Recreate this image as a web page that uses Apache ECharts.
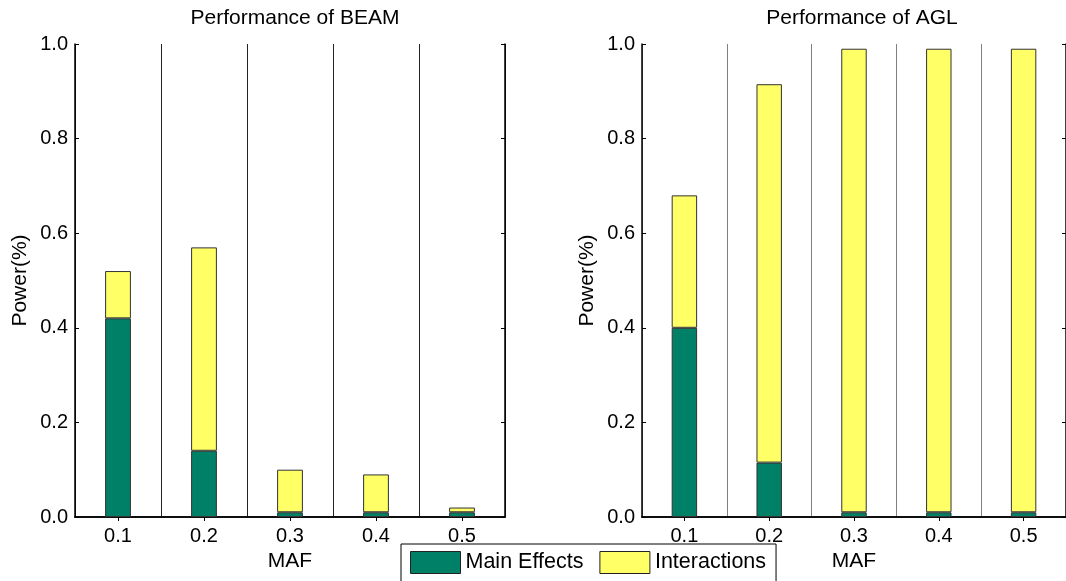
<!DOCTYPE html>
<html>
<head>
<meta charset="utf-8">
<script src="https://cdn.jsdelivr.net/npm/echarts@6/dist/echarts.min.js"></script>
<style>
html,body{margin:0;padding:0;background:#fff;}
#chart{width:1066px;height:581px;}
</style>
</head>
<body>
<div id="chart"></div>
<script>
const categories = ['0.1', '0.2', '0.3', '0.4', '0.5'];
const beamMain = [0.42, 0.14, 0.01, 0.01, 0.01];
const beamInter = [0.10, 0.43, 0.09, 0.08, 0.01];
const aglMain = [0.40, 0.115, 0.01, 0.01, 0.01];
const aglInter = [0.28, 0.80, 0.98, 0.98, 0.98];
const titles = ['Performance of BEAM', 'Performance of AGL'];

const FONT = 'Liberation Sans, Arial, sans-serif';
const GREEN = '#008066';
const YELLOW = '#ffff66';

const chart = echarts.init(document.getElementById('chart'), null, {renderer: 'canvas'});

const grids = [
  {left: 75, top: 44, width: 430, height: 473},
  {left: 642, top: 44, width: 430, height: 473}
];
const sepColors = ['#222', '#808080'];

const xAxes = [];
const yAxes = [];
grids.forEach((g, i) => {
  xAxes.push({
    type: 'category', gridIndex: i, data: categories, position: 'bottom',
    name: 'MAF', nameLocation: 'middle', nameGap: 29,
    nameTextStyle: {fontFamily: FONT, fontSize: 21, color: '#000'},
    axisLine: {lineStyle: {color: '#000', width: 1.5}},
    axisTick: {show: true, inside: true, alignWithLabel: true, length: 4, lineStyle: {color: '#000'}},
    axisLabel: {fontFamily: FONT, fontSize: 20, color: '#000', margin: 9},
    splitLine: {show: true, lineStyle: {color: sepColors[i], width: 1}}
  });
  xAxes.push({
    type: 'category', gridIndex: i, data: categories, position: 'top',
    axisLine: {lineStyle: {color: '#000', width: 1.5}},
    axisTick: {show: true, inside: true, alignWithLabel: true, length: 4, lineStyle: {color: '#000'}},
    axisLabel: {show: false},
    splitLine: {show: false}
  });
  yAxes.push({
    type: 'value', gridIndex: i, min: 0, max: 1, interval: 0.2, position: 'left',
    name: 'Power(%)', nameLocation: 'middle', nameGap: 44,
    nameTextStyle: {fontFamily: FONT, fontSize: 21, color: '#000'},
    axisLine: {show: true, lineStyle: {color: '#000', width: 1.5}},
    axisTick: {show: true, inside: true, length: 4, lineStyle: {color: '#000'}},
    axisLabel: {fontFamily: FONT, fontSize: 20, color: '#000', margin: 7,
      formatter: v => v.toFixed(1)},
    splitLine: {show: false}
  });
  yAxes.push({
    type: 'value', gridIndex: i, min: 0, max: 1, interval: 0.2, position: 'right',
    axisLine: {show: true, lineStyle: {color: '#000', width: 1.5}},
    axisTick: {show: true, inside: true, length: 4, lineStyle: {color: '#000'}},
    axisLabel: {show: false},
    splitLine: {show: false}
  });
});

function barSeries(name, data, gridIdx, stack, color) {
  return {
    name: name, type: 'bar', stack: stack,
    xAxisIndex: gridIdx * 2, yAxisIndex: gridIdx * 2,
    data: data, barWidth: '30%',
    itemStyle: {color: color, borderColor: '#333', borderWidth: 1},
    emphasis: {disabled: true},
    animation: false
  };
}

const option = {
  animation: false,
  title: titles.map((t, i) => ({
    text: t, left: grids[i].left + grids[i].width / 2, top: 3, textAlign: 'center',
    textStyle: {fontFamily: FONT, fontSize: 21, fontWeight: 'normal', color: '#000'}
  })),
  legend: {
    left: 401, top: 544,
    orient: 'horizontal',
    backgroundColor: '#fff',
    borderColor: '#000', borderWidth: 1,
    padding: [7, 10, 8, 9],
    itemWidth: 50, itemHeight: 22, itemGap: 16,
    icon: 'rect',
    textStyle: {fontFamily: FONT, fontSize: 21.5, color: '#000'},
    data: [
      {name: 'Main Effects', itemStyle: {color: GREEN, borderColor: '#222', borderWidth: 1}},
      {name: 'Interactions', itemStyle: {color: YELLOW, borderColor: '#222', borderWidth: 1}}
    ]
  },
  grid: grids,
  xAxis: xAxes,
  yAxis: yAxes,
  series: [
    barSeries('Main Effects', beamMain, 0, 'beam', GREEN),
    barSeries('Interactions', beamInter, 0, 'beam', YELLOW),
    barSeries('Main Effects', aglMain, 1, 'agl', GREEN),
    barSeries('Interactions', aglInter, 1, 'agl', YELLOW)
  ]
};
chart.setOption(option);
</script>
</body>
</html>
